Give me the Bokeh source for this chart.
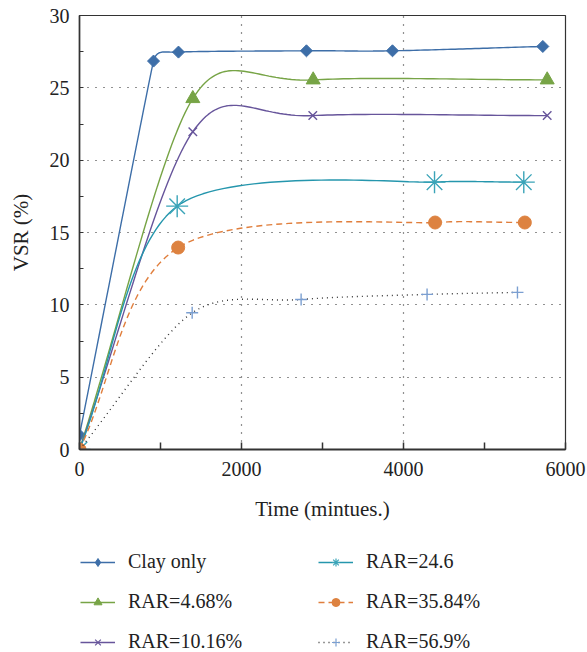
import numpy as np
from bokeh.plotting import figure
from bokeh.layouts import column
from bokeh.models import Range1d, FixedTicker, Legend, LegendItem
from bokeh.embed import file_html
from bokeh.resources import INLINE

# ---- data ----
clay_t = [0, 914, 1222, 2802, 3864, 5720]
clay_v = [1.0, 26.85, 27.47, 27.56, 27.56, 27.86]
r468_t = [0, 1399, 2885, 5774]
r468_v = [0, 24.26, 25.55, 25.55]
r1016_t = [0, 1399, 2880, 5774]
r1016_v = [0, 21.97, 23.08, 23.08]
r246_t = [0, 1206, 4383, 5485]
r246_v = [0, 16.82, 18.48, 18.48]
r3584_t = [0, 1218, 4390, 5498]
r3584_v = [0, 13.96, 15.69, 15.69]
r569_t = [0, 1391, 2736, 4291, 5407]
r569_v = [0, 9.45, 10.37, 10.72, 10.86]

labels = ["Clay only", "RAR=4.68%", "RAR=10.16%", "RAR=24.6", "RAR=35.84%", "RAR=56.9%"]
x_ticks = [0, 2000, 4000, 6000]
y_ticks = [0, 5, 10, 15, 20, 25, 30]

FW, FH = 486, 434
SX, SY = FW / 6000.0, FH / 30.0
FONT = "Liberation Serif"


def smooth(xs, ys, k, n=40):
    P = np.column_stack([np.asarray(xs, float) * SX, np.asarray(ys, float) * SY])
    m = len(P)
    out = [P[0]]
    t = np.linspace(0, 1, n)[1:][:, None]
    nrm = np.linalg.norm
    for i in range(m - 1):
        a, b = P[i], P[i + 1]
        L = nrm(b - a)
        if i == 0:
            c1 = a + (b - a) / 3.0
        else:
            d = P[i + 1] - P[i - 1]
            d = d / nrm(d)
            c1 = a + d * k * min(nrm(P[i] - P[i - 1]), L)
        if i + 1 == m - 1:
            c2 = b - (b - a) / 3.0
        else:
            d = P[i + 2] - P[i]
            d = d / nrm(d)
            c2 = b - d * k * min(L, nrm(P[i + 2] - P[i + 1]))
        pts = ((1 - t) ** 3) * a + 3 * ((1 - t) ** 2) * t * c1 + 3 * (1 - t) * t ** 2 * c2 + t ** 3 * b
        out.extend(pts)
    out = np.array(out)
    return out[:, 0] / SX, out[:, 1] / SY


p = figure(width=587, height=528, x_range=Range1d(0, 6000), y_range=Range1d(0, 30),
           output_backend="svg", toolbar_location=None,
           min_border_left=79, min_border_right=22, min_border_top=15, min_border_bottom=79)
p.background_fill_color = "white"
p.border_fill_color = "white"
p.outline_line_color = "#333333"
p.outline_line_width = 1.2

# grid
p.xgrid.ticker = FixedTicker(ticks=[2000, 4000])
p.ygrid.ticker = FixedTicker(ticks=[5, 10, 15, 20, 25])
for g in (p.xgrid, p.ygrid):
    g.grid_line_color = "#222222"
    g.grid_line_dash = "1 7"
    g.grid_line_width = 1.2

# axes
p.xaxis.ticker = FixedTicker(ticks=x_ticks, minor_ticks=[1000, 3000, 5000])
p.yaxis.ticker = FixedTicker(ticks=y_ticks, minor_ticks=[2.5, 7.5, 12.5, 17.5, 22.5, 27.5])
for ax in (p.xaxis, p.yaxis):
    ax.major_tick_out = 0
    ax.minor_tick_out = 0
    ax.axis_line_color = "#333333"
    ax.major_tick_line_color = "#333333"
    ax.minor_tick_line_color = "#333333"
    ax.major_label_text_font = FONT
    ax.major_label_text_font_size = "20px"
    ax.major_label_text_color = "#222222"
    ax.axis_label_text_font = FONT
    ax.axis_label_text_font_size = "21px"
    ax.axis_label_text_font_style = "normal"
    ax.axis_label_text_color = "#222222"
p.xaxis.axis_line_width = 2.2
p.xaxis.major_tick_in = 7
p.xaxis.minor_tick_in = 7
p.xaxis.major_tick_line_width = 1.5
p.xaxis.minor_tick_line_width = 1.5
p.xaxis.major_label_standoff = 12
p.xaxis.axis_label = "Time (mintues.)"
p.xaxis.axis_label_standoff = 18
p.yaxis.axis_line_width = 1.6
p.yaxis.major_tick_in = 4
p.yaxis.minor_tick_in = 4
p.yaxis.major_label_standoff = 10
p.yaxis.axis_label = "VSR (%)"
p.yaxis.axis_label_standoff = 14

# legend host figure (its view window lies away from the data, so only the legend shows)
p2 = figure(width=587, height=124, x_range=Range1d(-2, -1), y_range=Range1d(-2, -1),
            output_backend="svg", toolbar_location=None,
            min_border_left=0, min_border_right=0, min_border_top=0, min_border_bottom=0)
p2.axis.visible = False
p2.grid.visible = False
p2.outline_line_color = None
p2.background_fill_color = "white"
p2.border_fill_color = "white"

series = [
    (clay_t, clay_v, 0.5, "#3d6ea8", "#3d6ea8", "solid", 1.4, "square", 8.5, np.pi / 4, "diamond"),
    (r468_t, r468_v, 0.5, "#77a446", "#77a446", "solid", 1.4, "triangle", 14, 0.0, "triangle"),
    (r1016_t, r1016_v, 0.5, "#67559b", "#67559b", "solid", 1.4, "x", 12, 0.0, "x"),
    (r246_t, r246_v, 0.25, "#2596ad", "#3aa4b8", "solid", 1.4, "asterisk", 22, 0.0, "asterisk"),
    (r3584_t, r3584_v, 0.3, "#e07e3c", "#dd8240", "6 4", 1.4, "circle", 13, 0.0, "circle"),
    (r569_t, r569_v, 0.35, "#333333", "#7b9fd1", "1 4", 1.4, "cross", 12, 0.0, "cross"),
]

items = []
for (xs, ys, k, lc, mc, dash, lw, mk, ms, ang, lmk), lab in zip(series, labels):
    sx, sy = smooth(xs, ys, k)
    p.line(sx, sy, line_color=lc, line_width=lw, line_dash=dash)
    lr2 = p2.line(xs, ys, line_color=lc, line_width=lw, line_dash=dash)
    if mk in ("x", "asterisk", "cross"):
        p.scatter(xs, ys, marker=mk, size=ms, line_color=mc, line_width=1.4, angle=ang)
        sr2 = p2.scatter(xs, ys, marker=lmk, size=ms, line_color=mc, line_width=1.2)
    else:
        p.scatter(xs, ys, marker=mk, size=ms, fill_color=mc, line_color=mc, angle=ang)
        sr2 = p2.scatter(xs, ys, marker=lmk, size=ms, fill_color=mc, line_color=mc)
    items.append(LegendItem(label=lab, renderers=[lr2, sr2]))

legend = Legend(items=items, orientation="vertical", nrows=3, location=(1, -1))
legend.glyph_width = 35
legend.glyph_height = 20
legend.label_height = 20
legend.label_width = 173
legend.label_standoff = 13
legend.spacing = 17
legend.padding = 0
legend.margin = 0
legend.border_line_alpha = 0
legend.background_fill_alpha = 0
legend.label_text_font = FONT
legend.label_text_font_size = "20px"
legend.label_text_color = "#222222"
p2.add_layout(legend, "center")

layout = column(p, p2, spacing=0)
open("out.html", "w").write(file_html(layout, INLINE))
